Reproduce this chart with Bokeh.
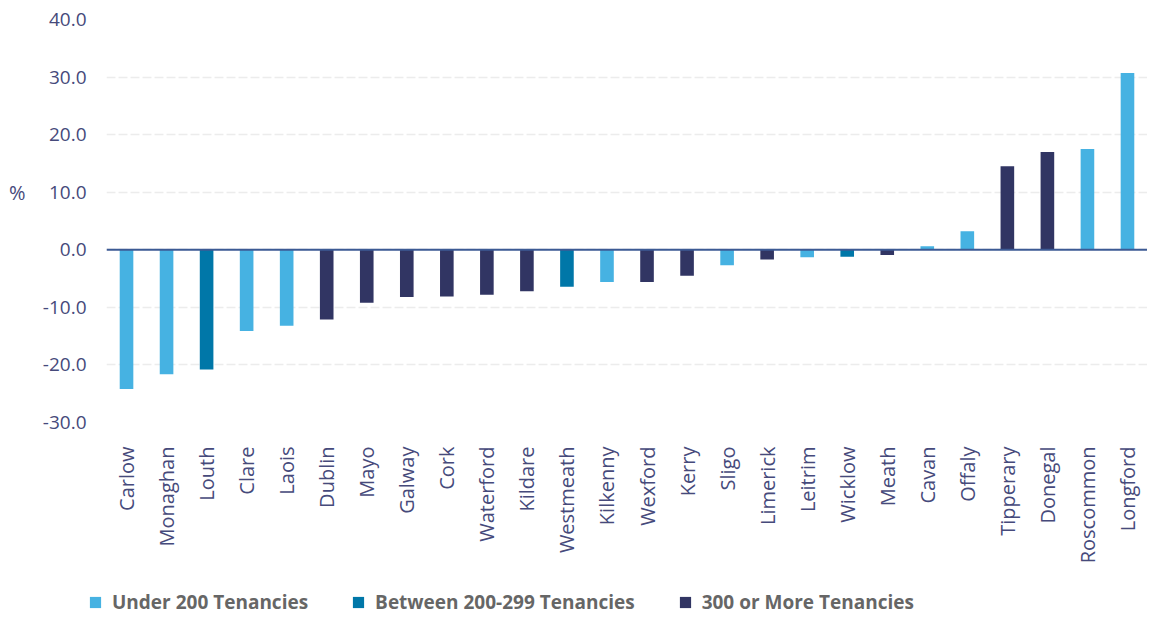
from bokeh.plotting import figure
from bokeh.layouts import column
from bokeh.models import (FactorRange, Range1d, FixedTicker, PrintfTickFormatter,
                          Span, Legend, LegendItem, ColumnDataSource, LinearAxis,
                          CustomJSTickFormatter)
from bokeh.embed import file_html
from bokeh.resources import INLINE
import math

counties = ["Carlow", "Monaghan", "Louth", "Clare", "Laois", "Dublin", "Mayo", "Galway",
            "Cork", "Waterford", "Kildare", "Westmeath", "Kilkenny", "Wexford", "Kerry",
            "Sligo", "Limerick", "Leitrim", "Wicklow", "Meath", "Cavan", "Offaly",
            "Tipperary", "Donegal", "Roscommon", "Longford"]
change_pct = [-24.2, -21.6, -20.8, -14.1, -13.2, -12.1, -9.2, -8.2,
              -8.1, -7.8, -7.2, -6.4, -5.6, -5.6, -4.5,
              -2.7, -1.7, -1.3, -1.2, -0.9, 0.6, 3.2,
              14.5, 17.0, 17.5, 30.7]
size_group = ["u", "u", "b", "u", "u", "o", "o", "o",
              "o", "o", "o", "b", "u", "o", "o",
              "u", "o", "u", "b", "o", "u", "u",
              "o", "o", "u", "u"]
group_keys = ["u", "b", "o"]
group_labels = ["Under 200 Tenancies", "Between 200-299 Tenancies", "300 or More Tenancies"]
group_colors = ["#46b2e2", "#0077a8", "#313563"]
y_ticks = [-30, -20, -10, 0, 10, 20, 30, 40]
unit_tick = [10]
unit_label = "%"

FONT = "Open Sans"
TXT = "#464a7b"

p = figure(frame_width=1041, frame_height=403, x_range=FactorRange(*counties),
           y_range=Range1d(-30, 40), output_backend="svg", toolbar_location=None,
           min_border_left=106, min_border_right=0, min_border_top=19, min_border_bottom=150)
p.outline_line_color = None
p.background_fill_color = "white"
p.border_fill_color = "white"

for key, col in zip(group_keys, group_colors):
    xs = [c for c, g in zip(counties, size_group) if g == key]
    ys = [v for v, g in zip(change_pct, size_group) if g == key]
    src = ColumnDataSource(dict(x=xs, top=ys))
    p.vbar(x="x", top="top", bottom=0, width=0.34, source=src,
           fill_color=col, line_color=None)

p.add_layout(Span(location=0, dimension="width", line_color="#3c5a94", line_width=2))

p.xgrid.grid_line_color = None
p.ygrid.grid_line_color = "#ececec"
p.ygrid.grid_line_dash = "9 3"
p.ygrid.grid_line_width = 1.5

p.yaxis.ticker = FixedTicker(ticks=y_ticks)
p.yaxis.formatter = PrintfTickFormatter(format="%.1f")
p.yaxis.axis_line_color = None
p.yaxis.major_tick_line_color = None
p.yaxis.minor_tick_line_color = None
p.yaxis.major_tick_out = 0
p.yaxis.major_label_standoff = 20
p.yaxis.major_label_text_font = FONT
p.yaxis.major_label_text_font_size = "19px"
p.yaxis.major_label_text_color = TXT

unit_axis = LinearAxis(ticker=FixedTicker(ticks=unit_tick),
                       formatter=CustomJSTickFormatter(code="return '%s';" % unit_label),
                       axis_line_color=None, major_tick_line_color=None,
                       minor_tick_line_color=None, major_tick_out=0,
                       major_label_standoff=14, major_label_text_font=FONT,
                       major_label_text_font_size="20px", major_label_text_color=TXT)
p.add_layout(unit_axis, "left")

p.xaxis.axis_line_color = None
p.xaxis.major_tick_line_color = None
p.xaxis.minor_tick_line_color = None
p.xaxis.major_tick_out = 0
p.xaxis.major_label_orientation = math.pi / 2
p.xaxis.major_label_standoff = 24
p.xaxis.major_label_text_font = FONT
p.xaxis.major_label_text_font_size = "20px"
p.xaxis.major_label_text_color = TXT

# legend strip below the chart
lf = figure(width=1139, height=47, x_range=Range1d(0, 1), y_range=Range1d(0, 1),
            output_backend="svg", toolbar_location=None,
            x_axis_location=None, y_axis_location=None, min_border=0)
lf.outline_line_color = None
lf.xgrid.grid_line_color = None
lf.ygrid.grid_line_color = None
items = []
for lab, col in zip(group_labels, group_colors):
    # zero-height swatch renderer, only used to draw the legend square
    r = lf.vbar(x=[0], top=[0], bottom=[0], width=0.1, fill_color=col, line_color=None)
    items.append(LegendItem(label=lab, renderers=[r]))
legend = Legend(items=items, orientation="horizontal", location=(88, 4),
                glyph_width=14, glyph_height=14, label_standoff=10, spacing=43,
                padding=0, margin=0, border_line_color=None, background_fill_alpha=0,
                label_text_font=FONT, label_text_font_style="bold",
                label_text_font_size="19px", label_text_color="#666666")
lf.add_layout(legend)

open("out.html", "w").write(file_html(column(p, column(lf)), INLINE))
